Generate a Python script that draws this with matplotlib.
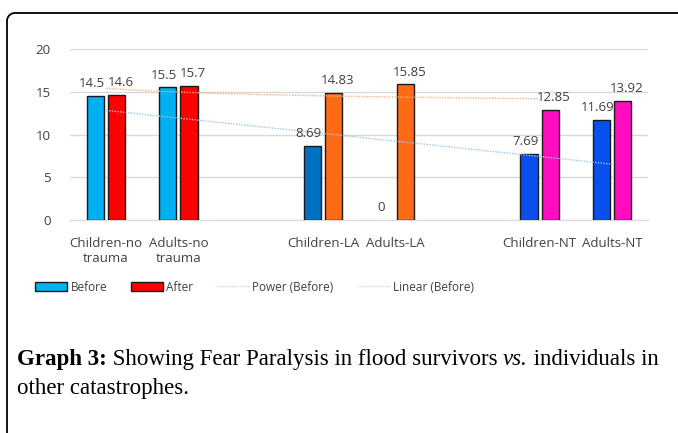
import numpy as np
import matplotlib
matplotlib.use('Agg')
import matplotlib.pyplot as plt
from matplotlib.patches import Patch
from matplotlib.lines import Line2D

# category slots (blank slots separate the three groups)
labels = ['Children-no\ntrauma', 'Adults-no\ntrauma', '', 'Children-LA', 'Adults-LA', '',
          'Children-NT', 'Adults-NT']
slots = [0, 1, 3, 4, 6, 7]
before = [14.5, 15.5, 8.69, 0, 7.69, 11.69]
after = [14.6, 15.7, 14.83, 15.85, 12.85, 13.92]
before_txt = ['14.5', '15.5', '8.69', '0', '7.69', '11.69']
after_txt = ['14.6', '15.7', '14.83', '15.85', '12.85', '13.92']

before_cols = ['#00B0F0', '#00B0F0', '#0070C0', '#0070C0', '#0A50EE', '#0A50EE']
after_cols = ['#FF0000', '#FF0000', '#FF6A15', '#FF6A15', '#FF0DBF', '#FF0DBF']

fig = plt.figure(figsize=(6.78, 4.33), dpi=100)
plt.rcParams['font.family'] = ['Open Sans', 'DejaVu Sans']
ax = fig.add_axes([0.1032, 0.4919, 0.8526, 0.3949])

x = np.array(slots, dtype=float)
w = 0.24
off = 0.148
lw_b = [1 if v > 0 else 0 for v in before]
ax.bar(x - off, before, w, color=before_cols, edgecolor='#1a1a1a', linewidth=lw_b, zorder=3)
ax.bar(x + off, after, w, color=after_cols, edgecolor='#1a1a1a', linewidth=1, zorder=3)

for xi, v, t in zip(x, before, before_txt):
    ax.text(xi - off - 0.05, v + 0.7, t, ha='center', va='bottom', fontsize=9.5, color='#404040', zorder=5)
for xi, v, t in zip(x, after, after_txt):
    ax.text(xi + off + 0.05, v + 0.7, t, ha='center', va='bottom', fontsize=9.5, color='#404040', zorder=5)

# trend lines (Excel-style, category numbers 1..8)
xn = x + 1
k, c = np.polyfit(xn, before, 1)
xl = np.linspace(1, 8, 50)
ax.plot(xl - 1, k * xl + c, ls=(0, (1, 1)), color='#9DC3E6', lw=1, zorder=4)
b, lna = np.polyfit(np.log(xn), np.log(after), 1)
xp = np.linspace(1, 7, 50)
ax.plot(xp - 1, np.exp(lna) * xp ** b, ls=(0, (1, 1)), color='#F4B183', lw=1, zorder=4)

ax.set_xlim(-0.5, 7.5)
ax.set_ylim(0, 20)
ax.set_yticks([0, 5, 10, 15, 20])
ax.set_xticks(range(8))
ax.set_xticklabels(labels, fontsize=9.5, color='#404040', linespacing=1.25)
ax.tick_params(axis='y', labelsize=9.5, labelcolor='#404040', length=0, pad=14)
ax.tick_params(axis='x', length=0, pad=12)
ax.grid(axis='y', color='#D9D9D9', lw=1, zorder=0)
for s in ['top', 'right', 'left']:
    ax.spines[s].set_visible(False)
ax.spines['bottom'].set_color('#D9D9D9')

handles = [Patch(facecolor='#00B0F0', edgecolor='#1a1a1a'),
           Patch(facecolor='#FF0000', edgecolor='#1a1a1a'),
           Line2D([], [], ls=(0, (1, 1)), color='#BDD7EE', lw=1),
           Line2D([], [], ls=(0, (1, 1)), color='#BDD7EE', lw=1)]
fig.legend(handles, ['Before', 'After', 'Power (Before)', 'Linear (Before)'],
           loc='center left', bbox_to_anchor=(0.036, 0.337), ncol=4, frameon=False,
           fontsize=8.5, handlelength=2.7, handleheight=0.7, handletextpad=0.3,
           columnspacing=2.0, labelcolor='#404040')

# frame: top and left line with a rounded corner
fr = fig.add_axes([0, 0, 1, 1], facecolor='none')
fr.set_xlim(0, 678)
fr.set_ylim(433, 0)
fr.axis('off')
t = np.linspace(np.pi, 1.5 * np.pi, 20)
r = 8
fr.plot(np.r_[7, 7 + r + r * np.cos(t), 678], np.r_[433, 13 + r + r * np.sin(t), 13],
        color='black', lw=1.3)

# caption
fs = 16.5
cap_y = 0.157
fig.canvas.draw()
rend = fig.canvas.get_renderer()
t1 = fig.text(0.025, cap_y, 'Graph 3:', fontsize=fs, family='Liberation Serif', weight='bold')
x0 = t1.get_window_extent(rend).x1 / fig.bbox.width
t1b = fig.text(x0, cap_y, ' Showing Fear Paralysis in flood survivors ', fontsize=fs, family='Liberation Serif')
x1 = t1b.get_window_extent(rend).x1 / fig.bbox.width
t1c = fig.text(x1, cap_y, 'vs.', fontsize=fs, family='Liberation Serif', style='italic')
x2 = t1c.get_window_extent(rend).x1 / fig.bbox.width
fig.text(x2, cap_y, ' individuals in', fontsize=fs, family='Liberation Serif')
fig.text(0.025, cap_y - 0.066, 'other catastrophes.', fontsize=fs, family='Liberation Serif')

fig.savefig('out.png', dpi=100)
